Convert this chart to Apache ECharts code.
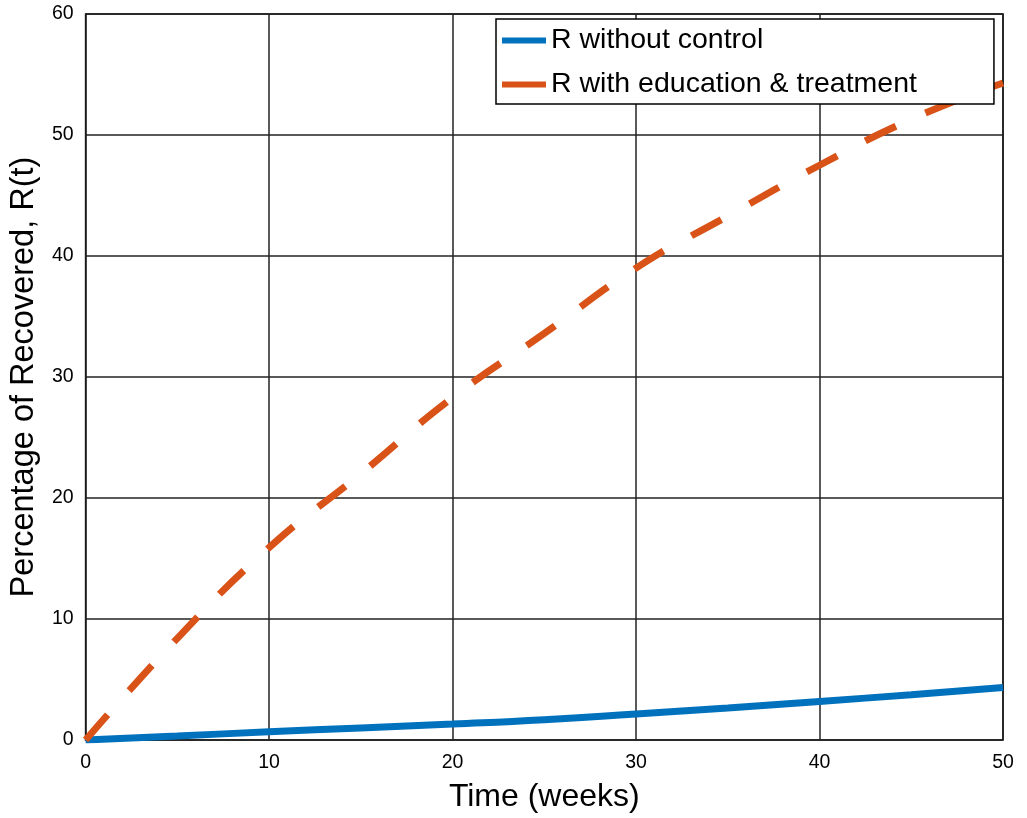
<!DOCTYPE html>
<html>
<head>
<meta charset="utf-8">
<script src="https://cdn.jsdelivr.net/npm/echarts@6/dist/echarts.min.js"></script>
<style>
  html, body { margin: 0; padding: 0; background: #fff; }
  #chart { width: 1027px; height: 818px; }
</style>
</head>
<body>
<div id="chart"></div>
<script>
// time in weeks
var weeks = [0, 5, 10, 15, 20, 25, 30, 35, 40, 45, 50];
// R without control
var rNoControl = [0, 0.33, 0.68, 1.0, 1.32, 1.68, 2.15, 2.64, 3.19, 3.74, 4.34];
// R with education & treatment
var rEduTreat = [0, 8.4, 15.9, 22.0, 28.3, 33.6, 39.0, 43.3, 47.5, 51.3, 54.3];

var yTicks = [0, 10, 20, 30, 40, 50, 60];
var xTicks = [0, 10, 20, 30, 40, 50];

function pairs(xs, ys) {
  return xs.map(function (x, i) { return [x, ys[i]]; });
}

var myChart = echarts.init(document.getElementById("chart"));
var font = "Liberation Sans, Arial, Helvetica, sans-serif";

myChart.setOption({
  animation: false,
  textStyle: { fontFamily: font },
  grid: {
    left: 84, right: 24, top: 14, bottom: 77,
    show: true, borderColor: "#000", borderWidth: 1.5
  },
  legend: {
    orient: "vertical",
    left: 496, top: 19,
    padding: [7, 77, 5, 6],
    itemGap: 15,
    itemWidth: 44, itemHeight: 6,
    icon: "rect",
    borderColor: "#000", borderWidth: 1.5,
    backgroundColor: "#fff",
    textStyle: { fontSize: 28.5, lineHeight: 28, color: "#000", fontFamily: font },
    data: ["R without control", "R with education & treatment"]
  },
  xAxis: {
    type: "value",
    min: xTicks[0], max: xTicks[xTicks.length - 1], interval: 10,
    name: "Time (weeks)",
    nameLocation: "middle",
    nameGap: 41,
    nameTextStyle: { fontSize: 32, color: "#000", fontFamily: font },
    axisLine: { show: false },
    axisTick: { show: false },
    axisLabel: { fontSize: 19.5, color: "#000", margin: 13 },
    splitLine: { lineStyle: { color: "#222", width: 1.5 } }
  },
  yAxis: {
    type: "value",
    min: yTicks[0], max: yTicks[yTicks.length - 1], interval: 10,
    name: "Percentage of Recovered, R(t)",
    nameLocation: "middle",
    nameGap: 40,
    nameTextStyle: { fontSize: 32.5, color: "#000", fontFamily: font },
    axisLine: { show: false },
    axisTick: { show: false },
    axisLabel: { fontSize: 19.5, color: "#000", margin: 12 },
    splitLine: { lineStyle: { color: "#222", width: 1.5 } }
  },
  series: [
    {
      name: "R without control",
      type: "line",
      data: pairs(weeks, rNoControl),
      smooth: true,
      showSymbol: false,
      symbol: "none",
      itemStyle: { color: "#0072BD" },
      lineStyle: { color: "#0072BD", width: 7 }
    },
    {
      name: "R with education & treatment",
      type: "line",
      data: pairs(weeks, rEduTreat),
      smooth: true,
      showSymbol: false,
      symbol: "none",
      itemStyle: { color: "#D95319" },
      lineStyle: { color: "#D95319", width: 7, type: [34, 32], cap: "butt" }
    }
  ]
});
</script>
</body>
</html>
